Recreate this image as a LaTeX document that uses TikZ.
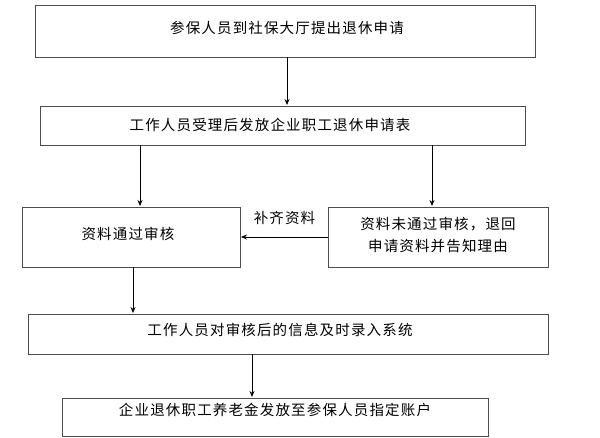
\documentclass[tikz,border=0pt]{standalone}
\usepackage{fontspec}
\usetikzlibrary{arrows.meta}
\newfontfamily\cjk[LetterSpace=8]{Noto Sans CJK SC}
\begin{document}
\begin{tikzpicture}[x=1pt,y=-1pt,
 bx/.style={draw=black!70,line width=0.8pt},
 tx/.style={font=\cjk\fontsize{14.5}{22}\selectfont,align=center,inner sep=0pt},
 ar/.style={-{Stealth[length=6pt,width=5pt]},line width=0.8pt}]
\useasboundingbox (0,0) rectangle (600,438);
\draw[bx] (35,5) rectangle (535,57);
\node[tx] (t1) at (287,28) {参保人员到社保大厅提出退休申请};
\draw[bx] (40,106) rectangle (525,145);
\node[tx] (t2) at (270,125) {工作人员受理后发放企业职工退休申请表};
\draw[bx] (22,207) rectangle (240,267);
\node[tx] (t3) at (128,234) {资料通过审核};
\draw[bx] (328,207) rectangle (548,267);
\node[tx] (t4) at (438,235) {资料未通过审核，退回\\申请资料并告知理由};
\draw[bx] (28,314) rectangle (548,354);
\node[tx] (t5) at (280,330) {工作人员对审核后的信息及时录入系统};
\draw[bx] (62,398) rectangle (488,436);
\node[tx] (t6) at (275,410) {企业退休职工养老金发放至参保人员指定账户};
\coordinate (a1) at (287,57); \coordinate (a2) at (287,105);
\draw[ar] (a1) -- (a2);
\coordinate (b1) at (140,145); \coordinate (b2) at (140,206);
\draw[ar] (b1) -- (b2);
\coordinate (c1) at (432,145); \coordinate (c2) at (432,206);
\draw[ar] (c1) -- (c2);
\coordinate (d1) at (328,237); \coordinate (d2) at (241,237);
\draw[ar] (d1) -- node[tx,above=12pt] {补齐资料} (d2);
\coordinate (e1) at (133,267); \coordinate (e2) at (133,313);
\draw[ar] (e1) -- (e2);
\coordinate (f1) at (252,354); \coordinate (f2) at (252,397);
\draw[ar] (f1) -- (f2);
\end{tikzpicture}
\end{document}
